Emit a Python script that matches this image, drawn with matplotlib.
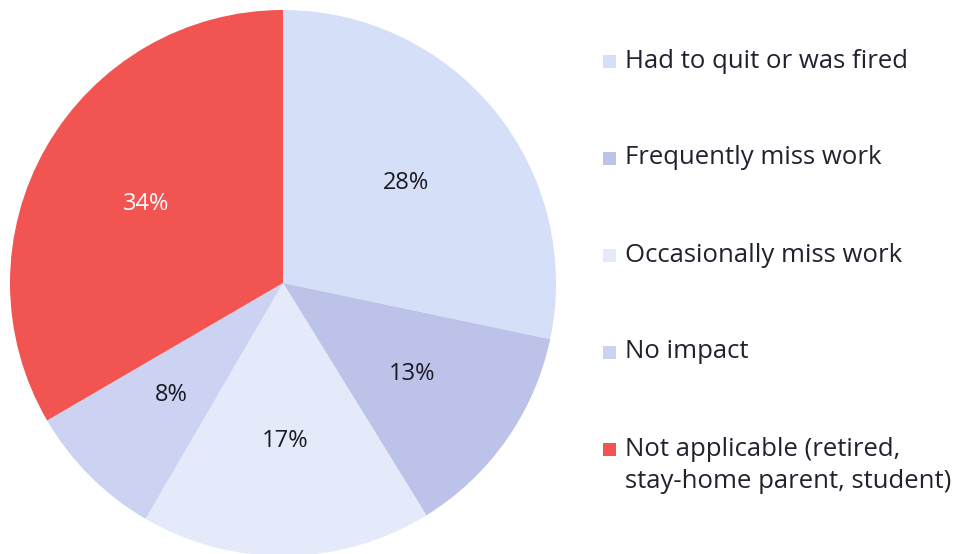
import matplotlib.pyplot as plt
from matplotlib.patches import Rectangle

labels = ["Had to quit or was fired", "Frequently miss work", "Occasionally miss work",
          "No impact", "Not applicable (retired,\nstay-home parent, student)"]
values = [28.3, 12.9, 17.2, 8.2, 33.4]
pct_labels = ["28%", "13%", "17%", "8%", "34%"]
colors = ["#D6DFF8", "#BDC3E8", "#E4EAFA", "#CBD2F2", "#F15451"]
pct_colors = ["#1a1a22", "#1a1a22", "#1a1a22", "#1a1a22", "#ffffff"]

plt.rcParams['font.family'] = ['Open Sans', 'DejaVu Sans']

W, H = 965, 554
fig = plt.figure(figsize=(W / 100, H / 100), dpi=100)
cx, cy, R = 283, 283, 273
ax = fig.add_axes([(cx - R) / W, (H - cy - R) / H, 2 * R / W, 2 * R / H])
wedges, texts, autotexts = ax.pie(values, colors=colors, startangle=90, counterclock=False,
                                  autopct="%.0f%%", pctdistance=0.58,
                                  wedgeprops=dict(linewidth=0))
for t, c, s in zip(autotexts, pct_colors, pct_labels):
    t.set_text(s)
    t.set_color(c)
    t.set_fontsize(17)
ax.set_xlim(-1, 1)
ax.set_ylim(-1, 1)

# legend
ys = [61, 158, 255, 352, 449]
for lab, col, y in zip(labels, colors, ys):
    fig.patches.append(Rectangle((603 / W, (H - y - 7) / H), 13 / W, 13 / H,
                                 transform=fig.transFigure, facecolor=col, edgecolor='none'))
    first, *rest = lab.split("\n")
    fig.text(625 / W, (H - y) / H, first, fontsize=18.5, color="#22222e", va='center', ha='left')
    for i, line in enumerate(rest, start=1):
        fig.text(625 / W, (H - y - 33 * i) / H, line, fontsize=18.5, color="#22222e",
                 va='center', ha='left')

fig.savefig("out.png", dpi=100)
